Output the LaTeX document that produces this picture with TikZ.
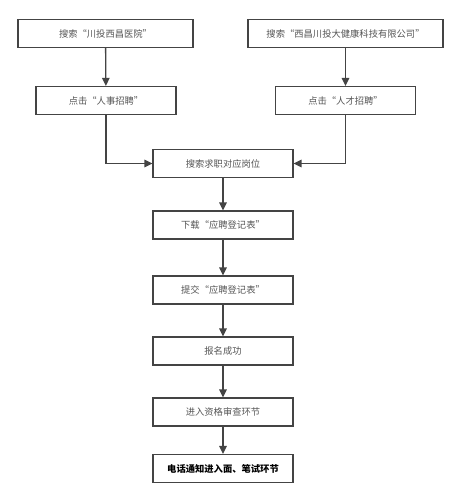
\documentclass[tikz,border=0pt]{standalone}
\usepackage{fontspec}
\setmainfont{Noto Sans CJK SC}
\usetikzlibrary{arrows.meta}
\definecolor{edgec}{HTML}{444444}
\definecolor{txtc}{HTML}{555555}
\tikzset{
  box/.style={draw=edgec, line width=1.2pt, fill=white, minimum height=28pt, inner sep=0pt, font=\fontsize{9.3}{11}\selectfont, text=txtc},
  conn/.style={draw=edgec, line width=1.3pt, -{Triangle[length=8pt,width=7.5pt]}}
}
\begin{document}
\begin{tikzpicture}[x=1pt,y=-1pt]
\useasboundingbox (0,0) rectangle (461,502);
\node[box, minimum width=175pt] (b1) at (105.5,33.5) {搜索“川投西昌医院”};
\node[box, minimum width=195pt] (b2) at (345.5,33.5) {搜索“西昌川投大健康科技有限公司”};
\node[box, minimum width=140pt] (b3) at (106,100.5) {点击“人事招聘”};
\node[box, minimum width=140pt] (b4) at (345.5,100.5) {点击“人才招聘”};
\node[box, minimum width=140pt] (b5) at (223,163.5) {搜索求职对应岗位};
\node[box, minimum width=140pt] (b6) at (223,225) {下载“应聘登记表”};
\node[box, minimum width=140pt] (b7) at (223,290) {提交“应聘登记表”};
\node[box, minimum width=140pt] (b8) at (223,351) {报名成功};
\node[box, minimum width=140pt] (b9) at (223,412) {进入资格审查环节};
\node[box, minimum width=140pt, text=black, font=\fontsize{9.3}{11}\selectfont\bfseries] (b10) at (223,468.5) {电话通知进入面、笔试环节};
\draw[conn] (b1) -- (b3);
\draw[conn] (b2) -- (b4);
\draw[conn] (b3.south) |- (b5.west);
\draw[conn] (b4.south) |- (b5.east);
\draw[conn] (b5) -- (b6);
\draw[conn] (b6) -- (b7);
\draw[conn] (b7) -- (b8);
\draw[conn] (b8) -- (b9);
\draw[conn] (b9) -- (b10);
\end{tikzpicture}
\end{document}
